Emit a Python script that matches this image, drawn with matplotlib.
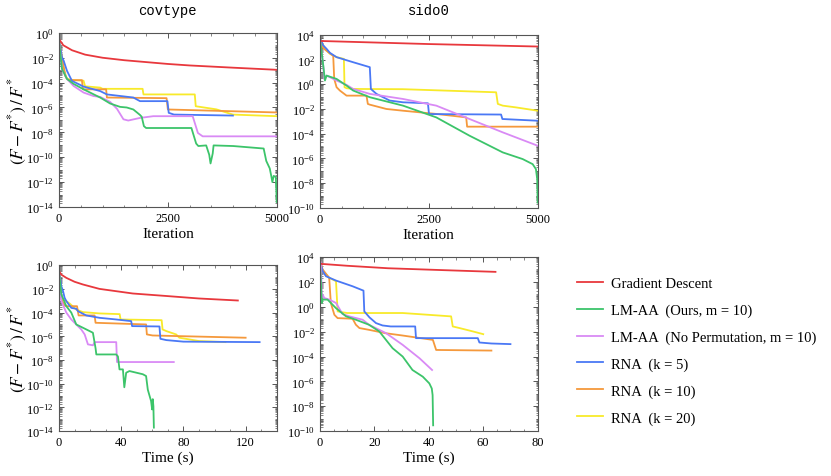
import numpy as np
import matplotlib
matplotlib.use("Agg")
import matplotlib.pyplot as plt
from matplotlib.ticker import LogLocator, MultipleLocator, NullFormatter

plt.rcParams.update({
    "font.family": "Liberation Serif",
    "mathtext.fontset": "stix",
    "font.size": 9,
    "axes.linewidth": 0.8,
    "axes.edgecolor": "#555555",
})

NAMES = ["Gradient Descent", "LM-AA  (Ours, m = 10)",
         "LM-AA  (No Permutation, m = 10)", "RNA  (k = 5)",
         "RNA  (k = 10)", "RNA  (k = 20)"]
COLORS = ["#E8383D", "#3CC46A", "#D98AF5", "#4A78F5", "#F5993C", "#F8EA2A"]

# ── covtype, iteration: (x, log10 y) ─────────────────────────
cov_it_gd = [(0, -0.5), (100, -1.0), (300, -1.4), (600, -1.75), (1000, -2.0),
             (1500, -2.2), (2000, -2.35), (2500, -2.5), (3000, -2.62),
             (4000, -2.8), (5000, -2.97)]
cov_it_lm = [(0, -0.6), (69, -2.9), (183, -3.7), (335, -4.1), (564, -4.54),
             (945, -5.2), (1174, -5.68), (1402, -5.95), (1555, -6.0),
             (1707, -6.16), (1860, -6.6), (1900, -6.75), (1950, -7.5),
             (2000, -7.65), (3041, -7.65), (3150, -8.9), (3200, -9.1),
             (3380, -9.05), (3450, -9.8), (3480, -10.5), (3530, -9.7),
             (3550, -9.05), (4000, -9.1), (4700, -9.3), (4760, -10.3),
             (4840, -10.9), (4880, -11.6), (4900, -12.0), (4930, -11.5),
             (4980, -11.6), (5000, -13.6)]
cov_it_np = [(0, -0.6), (69, -2.9), (183, -3.7), (335, -4.27), (564, -4.8),
             (793, -5.08), (945, -5.15), (1174, -5.55), (1330, -6.1),
             (1480, -6.95), (1590, -7.05), (1860, -6.84), (2165, -6.7),
             (3070, -6.7), (3190, -8.05), (3300, -8.32), (5000, -8.32)]
cov_it_k5 = [(0, -0.6), (69, -1.97), (107, -2.24), (183, -3.05), (297, -3.86),
             (564, -4.32), (945, -4.68), (1100, -4.95), (1707, -5.2),
             (1860, -5.49), (2490, -5.49), (2520, -6.43), (2640, -6.57),
             (3994, -6.65)]
cov_it_k10 = [(0, -0.6), (145, -3.46), (183, -3.7), (220, -3.8), (526, -3.8),
              (550, -4.54), (1082, -4.54), (1100, -5.2), (2470, -5.25),
              (2500, -6.16), (5000, -6.4)]
cov_it_k20 = [(0, -0.6), (107, -2.9), (183, -3.7), (335, -3.8), (564, -3.85),
              (600, -4.3), (945, -4.4), (1000, -4.5), (1920, -4.5),
              (1940, -4.95), (3118, -4.95), (3140, -5.9), (3613, -6.15),
              (3994, -6.57), (5000, -6.7)]

# ── sido0, iteration ─────────────────────────────────────────
sido_it_gd = [(0, 3.5), (1000, 3.4), (2500, 3.25), (5000, 3.05)]
sido_it_lm = [(0, 3.73), (76, 1.51), (115, 0.3), (153, 0.7), (382, 0.43),
              (611, -0.11), (763, -0.51), (1145, -1.05), (1908, -1.73),
              (2672, -2.68), (3435, -4.16), (4198, -5.51), (4656, -6.05),
              (4885, -6.46), (4960, -6.86), (4990, -7.68), (5000, -9.57)]
sido_it_np = [(0, 3.73), (76, 1.51), (99, 0.43), (153, 0.7), (382, 0.3),
              (611, -0.05), (763, -0.38), (1145, -0.78), (1908, -1.19),
              (2672, -1.73), (3435, -2.81), (4198, -3.89), (5000, -4.97)]
sido_it_k5 = [(0, 3.73), (76, 3.14), (153, 2.86), (229, 2.54), (382, 2.19),
              (763, 1.78), (1145, 1.38), (1170, -0.38), (1298, -0.78),
              (1450, -1.05), (1603, -1.32), (1908, -1.46), (2480, -1.54),
              (2504, -2.41), (4160, -2.45), (4190, -2.81), (5000, -2.95)]
sido_it_k10 = [(0, 3.73), (76, 2.92), (191, 2.6), (305, 2.3), (328, 0.43),
               (382, -0.24), (458, -0.51), (611, -0.92), (1069, -0.92),
               (1100, -1.59), (1145, -1.65), (1527, -2.0), (1908, -2.14),
               (2672, -2.4), (3359, -2.68), (3380, -3.43), (5000, -3.43)]
sido_it_k20 = [(0, 3.73), (115, 2.86), (229, 2.46), (382, 2.19), (550, 2.05),
               (565, -0.24), (611, -0.32), (763, -0.38), (1908, -0.4),
               (4046, -0.65), (4085, -1.59), (4198, -1.73), (4500, -1.87),
               (5000, -2.14)]

# ── covtype, time (s) ────────────────────────────────────────
cov_t_gd = [(0, -0.5), (1.5, -0.8), (4.7, -1.07), (10, -1.4), (15.4, -1.63),
            (26, -2.0), (47.5, -2.39), (69, -2.6), (90, -2.81), (115, -2.98)]
cov_t_lm = [(0, -0.5), (1.5, -2.47), (4.7, -3.46), (7.9, -4.0), (11.1, -5.0),
            (15.4, -5.28), (19.7, -5.56), (21.8, -5.7), (23.5, -7.0),
            (24.0, -7.53), (36.8, -7.53), (37.9, -7.7), (38.9, -8.79),
            (41.1, -8.79), (42.0, -10.3), (43.2, -9.07), (45.3, -8.93),
            (53.9, -9.2), (56.0, -9.35), (57.1, -10.5), (59.2, -11.46),
            (59.9, -12.17), (60.3, -11.3), (60.7, -11.9), (61.0, -13.7)]
cov_t_np = [(0, -0.5), (1.5, -3.03), (4.7, -4.0), (7.9, -4.58), (11.1, -5.0),
            (14.3, -5.42), (16.5, -5.84), (18.6, -6.68), (21.8, -6.76),
            (23.0, -6.49), (36.8, -6.49), (37.3, -8.17), (73.8, -8.17)]
cov_t_k5 = [(0, -0.5), (1.5, -1.77), (2.6, -2.19), (3.6, -2.75), (4.7, -3.03),
            (7.9, -3.6), (11.1, -3.68), (12.2, -3.88), (17.5, -4.24),
            (26.0, -4.44), (36.8, -4.58), (46.4, -4.72), (47.0, -5.14),
            (64.6, -5.17), (65.2, -6.21), (69.0, -6.32), (80, -6.45),
            (129, -6.49)]
cov_t_k10 = [(0, -0.5), (1.5, -2.9), (3.6, -3.4), (4.7, -3.46), (11.6, -3.46),
             (12.6, -4.24), (22.9, -4.24), (23.5, -4.86), (56.0, -5.0),
             (56.5, -5.84), (60.2, -5.93), (120, -6.12)]
cov_t_k20 = [(0, -0.5), (1.5, -2.6), (2.6, -2.9), (4.7, -3.03), (6.8, -3.23),
             (11.1, -3.74), (15.4, -3.96), (26.0, -4.07), (39.0, -4.13),
             (39.6, -4.58), (66.0, -4.64), (66.6, -5.42), (69.0, -5.56),
             (75.3, -5.84), (77.4, -6.12), (90, -6.4), (107, -6.49)]

# ── sido0, time (s) ──────────────────────────────────────────
sido_t_gd = [(0, 3.46), (10, 3.3), (25, 3.1), (45, 2.95), (64.5, 2.81)]
sido_t_lm = [(0, 3.73), (0.7, 0.31), (1.0, 0.58), (2.8, 0.58), (5.9, -0.11),
             (9.6, -0.77), (13.2, -1.04), (18.0, -1.44), (21.8, -1.98),
             (26.7, -3.33), (30.4, -4.0), (34.0, -5.08), (37.8, -5.62),
             (40.2, -6.16), (41.1, -6.57), (41.4, -7.1), (41.6, -9.53)]
sido_t_np = [(0, 3.73), (0.4, 3.46), (0.7, 0.71), (1.0, 0.98), (1.6, 0.71),
             (3.4, 0.58), (5.9, 0.31), (8.3, -0.58), (10.8, -0.77),
             (15.7, -1.04), (18.0, -1.44), (24.3, -2.12), (30.4, -3.06),
             (36.6, -4.14), (41.2, -5.08)]
sido_t_k5 = [(0, 3.73), (1.0, 2.87), (2.2, 2.46), (5.9, 2.11), (12.0, 1.65),
             (16.0, 1.3), (16.3, -0.37), (18.2, -0.85), (20.6, -1.31),
             (23.0, -1.5), (26.0, -1.58), (35.0, -1.58), (35.3, -2.52),
             (58.0, -2.52), (58.6, -2.87), (63.0, -2.95), (70.0, -3.0)]
sido_t_k10 = [(0, 3.73), (1.0, 3.0), (3.4, 2.33), (4.0, 0.31), (5.3, -0.64),
              (6.5, -0.91), (12.0, -0.96), (13.2, -1.44), (14.5, -1.71),
              (18.0, -1.85), (24.0, -2.12), (30.4, -2.31), (41.5, -2.66),
              (42.7, -3.47), (63.0, -3.52)]
sido_t_k20 = [(0, 3.73), (1.0, 2.87), (3.4, 2.33), (5.9, 2.06), (6.5, -0.37),
              (7.7, -0.42), (10.0, -0.5), (30.4, -0.5), (48.2, -0.77),
              (48.8, -1.58), (51.3, -1.71), (56.2, -1.98), (60.0, -2.2)]

PANELS = [
    # (series, axes rect, xlim, xmajor, xminor, ylim exp)
    ([cov_it_gd, cov_it_lm, cov_it_np, cov_it_k5, cov_it_k10, cov_it_k20],
     [0.071, 0.564, 0.262, 0.365], (0, 5000), 2500, 500, (-14, 0)),
    ([sido_it_gd, sido_it_lm, sido_it_np, sido_it_k5, sido_it_k10, sido_it_k20],
     [0.385, 0.562, 0.262, 0.363], (0, 5000), 2500, 500, (-10, 4)),
    ([cov_t_gd, cov_t_lm, cov_t_np, cov_t_k5, cov_t_k10, cov_t_k20],
     [0.071, 0.094, 0.262, 0.348], (0, 140), 40, 10, (-14, 0)),
    ([sido_t_gd, sido_t_lm, sido_t_np, sido_t_k5, sido_t_k10, sido_t_k20],
     [0.385, 0.094, 0.262, 0.365], (0, 80), 20, 5, (-10, 4)),
]

fig = plt.figure(figsize=(8.31, 4.77), dpi=100)
axes = []
for series, rect, xlim, xmaj, xmin, (ylo, yhi) in PANELS:
    ax = fig.add_axes(rect)
    # draw in reverse legend order so GD ends up on top
    for i in [5, 4, 3, 2, 1, 0]:
        pts = np.array(series[i], dtype=float)
        ax.plot(pts[:, 0], 10.0 ** pts[:, 1], color=COLORS[i], lw=1.3,
                label=NAMES[i])
    ax.set_yscale("log")
    ax.set_xlim(*xlim)
    ax.set_ylim(10.0 ** ylo, 10.0 ** yhi)
    ax.xaxis.set_major_locator(MultipleLocator(xmaj))
    ax.xaxis.set_minor_locator(MultipleLocator(xmin))
    ax.yaxis.set_major_locator(LogLocator(base=100.0, numticks=20))
    ax.yaxis.set_minor_locator(LogLocator(base=10.0, subs=np.arange(1, 10),
                                          numticks=100))
    ax.yaxis.set_minor_formatter(NullFormatter())
    ax.tick_params(which="both", direction="in", top=True, right=True,
                   colors="#555555", labelcolor="black", labelsize=9)
    ax.tick_params(which="major", length=3.5, width=0.7)
    ax.tick_params(which="minor", length=1.8, width=0.5)
    axes.append(ax)

axes[0].set_xlabel("Iteration", fontsize=11, labelpad=2)
axes[1].set_xlabel("Iteration", fontsize=11, labelpad=2)
axes[2].set_xlabel("Time (s)", fontsize=11, labelpad=2)
axes[3].set_xlabel("Time (s)", fontsize=11, labelpad=2)

for ax in (axes[0], axes[2]):
    pos = ax.get_position()
    fig.text(0.021, pos.y0 + pos.height / 2, r"$(F - F^{*})\,/\,F^{*}$",
             rotation=90, ha="center", va="center", fontsize=12.5)

fig.text(0.202, 0.977, "covtype", family="Liberation Mono", fontsize=10,
         ha="center", va="center")
fig.text(0.516, 0.977, "sido0", family="Liberation Mono", fontsize=10,
         ha="center", va="center")

handles, labels = axes[3].get_legend_handles_labels()
fig.legend(handles[::-1], labels[::-1], loc="upper left",
           bbox_to_anchor=(0.679, 0.445), frameon=False, fontsize=10.5,
           handlelength=1.75, handletextpad=0.55, labelspacing=0.92)

fig.savefig("out.png", dpi=100)
